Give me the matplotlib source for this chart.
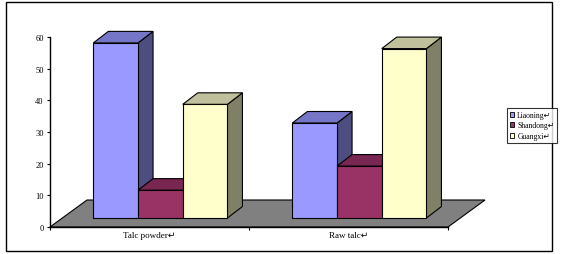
import matplotlib
matplotlib.use("Agg")
import matplotlib.pyplot as plt
from matplotlib.patches import Polygon, Rectangle, Patch

categories = ["Talc powder\u21b5", "Raw talc\u21b5"]
series_names = ["Liaoning\u21b5", "Shandong\u21b5", "Guangxi\u21b5"]
liaoning = [55.3, 30.0]
shandong = [8.8, 16.4]
guangxi = [35.9, 53.5]
yticks = [0, 10, 20, 30, 40, 50, 60]

front_colors = ["#9999FF", "#993366", "#FFFFCC"]
top_colors = ["#7676C8", "#772751", "#C0C09C"]
side_colors = ["#4D4D80", "#4D1A33", "#808066"]

FONT = ["Liberation Serif", "DejaVu Sans"]
plt.rcParams["font.family"] = FONT

W, H = 577, 255
fig = plt.figure(figsize=(W / 100, H / 100), dpi=100)

# outer chart border
fig.patches.append(Rectangle((6 / W, 3.5 / H), 546 / W, 248.5 / H, transform=fig.transFigure,
                             fill=False, edgecolor="black", linewidth=1.0, zorder=0))

ax_l, ax_b, ax_w, ax_h = 50, 27, 398, 190
ax = fig.add_axes([ax_l / W, ax_b / H, ax_w / W, ax_h / H])
ax.set_xlim(0, 2)
ax.set_ylim(0, 60)
ax.patch.set_visible(False)

pxx = ax_w / 2.0   # pixels per x unit
pxy = ax_h / 60.0  # pixels per y unit

# depth geometry (pixels)
floor_dx, floor_dy = 37, 27
front_dx, front_dy = 12.3, 9
bar_dx, bar_dy = 15, 11.5

fdx, fdy = floor_dx / pxx, floor_dy / pxy
ox, oy = front_dx / pxx, front_dy / pxy
bdx, bdy = bar_dx / pxx, bar_dy / pxy

# floor
floor = Polygon([(0, 0), (2, 0), (2 + fdx, fdy), (fdx, fdy)], closed=True,
                facecolor="#808080", edgecolor="black", linewidth=0.8, clip_on=False, zorder=1)
ax.add_patch(floor)

bw = 0.2246
series = [liaoning, shandong, guangxi]
for ci in range(len(categories)):
    start = ci + 0.493 - 1.5 * bw
    for si, vals in enumerate(series):
        v = vals[ci]
        x0 = start + si * bw + ox
        x1 = x0 + bw
        y0 = oy
        y1 = oy + v
        z = 2 + si + ci * 3
        front = Polygon([(x0, y0), (x1, y0), (x1, y1), (x0, y1)], closed=True,
                        facecolor=front_colors[si], edgecolor="black", linewidth=0.8,
                        clip_on=False, zorder=z)
        top = Polygon([(x0, y1), (x1, y1), (x1 + bdx, y1 + bdy), (x0 + bdx, y1 + bdy)], closed=True,
                      facecolor=top_colors[si], edgecolor="black", linewidth=0.8,
                      clip_on=False, zorder=z)
        side = Polygon([(x1, y0), (x1 + bdx, y0 + bdy), (x1 + bdx, y1 + bdy), (x1, y1)], closed=True,
                       facecolor=side_colors[si], edgecolor="black", linewidth=0.8,
                       clip_on=False, zorder=z)
        ax.add_patch(side)
        ax.add_patch(front)
        ax.add_patch(top)

for s in ["top", "right"]:
    ax.spines[s].set_visible(False)
ax.spines["left"].set_linewidth(1.0)
ax.spines["bottom"].set_linewidth(1.0)
ax.spines["left"].set_zorder(20)
ax.spines["bottom"].set_zorder(20)

ax.set_yticks(yticks)
ax.set_yticklabels([str(t) for t in yticks], fontsize=6)
ax.tick_params(axis="y", direction="out", length=2.5, width=0.8, pad=2)

ax.set_xticks([0, 1, 2])
ax.set_xticklabels([])
ax.tick_params(axis="x", which="major", direction="out", length=2.5, width=0.8)
ax.set_xticks([0.5, 1.5], minor=True)
ax.set_xticklabels(categories, minor=True, fontsize=6.5)
ax.tick_params(axis="x", which="minor", length=0, pad=3)

handles = [Patch(facecolor=front_colors[i], edgecolor="black", linewidth=0.6) for i in range(3)]
leg = fig.legend(handles, series_names, loc="center", bbox_to_anchor=(532 / W, (H - 126.5) / H),
                 fontsize=5.5, frameon=True, fancybox=False, edgecolor="black",
                 handlelength=0.6, handleheight=0.6, handletextpad=0.4,
                 borderpad=0.4, labelspacing=0.35, borderaxespad=0)
leg.get_frame().set_linewidth(0.8)

fig.savefig("out.png", dpi=100)
